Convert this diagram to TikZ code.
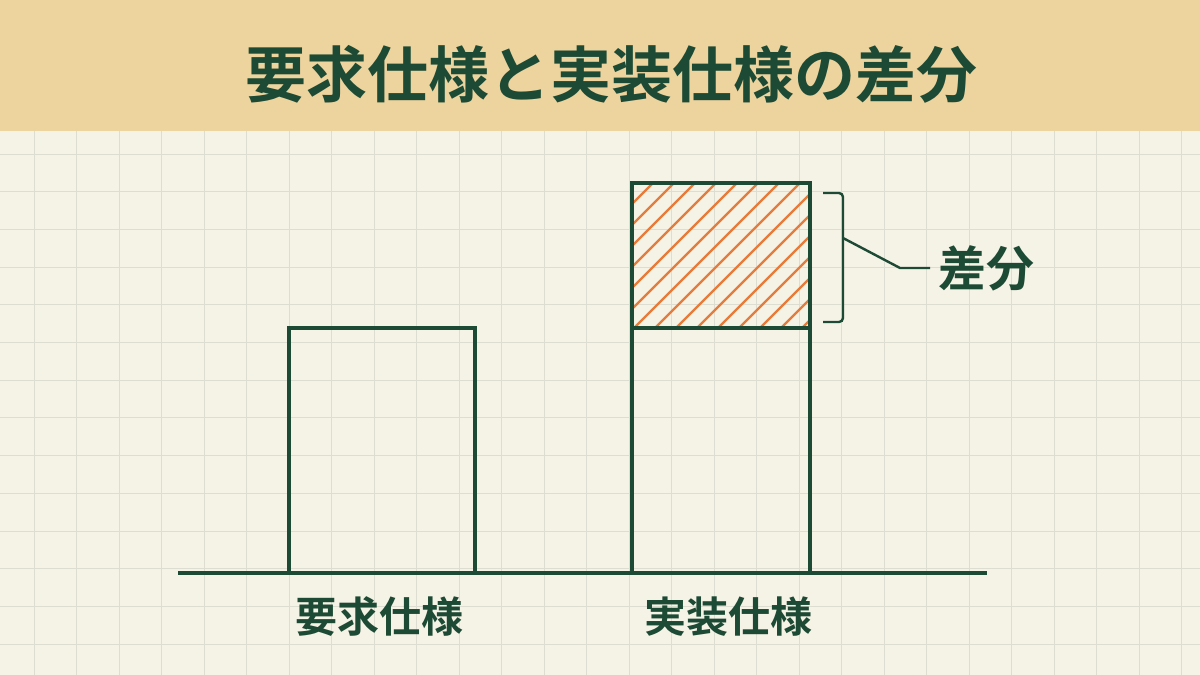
\documentclass[tikz,border=0pt]{standalone}
\usepackage{fontspec}
\newfontfamily\cjk{Noto Sans CJK JP Bold}
\definecolor{bgpaper}{HTML}{F5F2E6}
\definecolor{band}{HTML}{EDD39E}
\definecolor{gridc}{HTML}{DDDDD2}
\definecolor{ink}{HTML}{1D4A34}
\definecolor{hatch}{HTML}{E87B3A}
\tikzset{
  bar/.style={draw=ink, line width=3.3pt},
  lbl/.style={text=ink, font=\cjk\fontsize{42}{42}\selectfont, inner sep=0pt},
  gl/.style={draw=gridc, line width=0.9pt}
}
\begin{document}
\begin{tikzpicture}[x=1pt,y=-1pt]
\useasboundingbox (0,0) rectangle (1200,675);
\fill[bgpaper] (0,0) rectangle (1200,675);
% grid
\foreach \i in {0,...,27} {\draw[gl] ({34+42.5*\i},131) -- ({34+42.5*\i},675);}
\foreach \j in {0,...,13} {\draw[gl] (0,{154+37.7*\j}) -- (1200,{154+37.7*\j});}
% header band
\fill[band] (0,0) rectangle (1200,131);
\node[text=ink, font=\cjk\fontsize{61}{61}\selectfont, inner sep=0pt] (title) at (611,74) {要求仕様と実装仕様の差分};
% hatch
\begin{scope}
\clip (632,183) rectangle (810,328);
\foreach \k in {0,...,16} {\draw[hatch, line width=2.3pt] ({487+21*\k},328) -- ({632+21*\k},183);}
\end{scope}
% boxes
\draw[bar] (289,573) rectangle (475,328);
\draw[bar] (632,573) rectangle (810,183);
\draw[bar] (632,328) -- (810,328);
% baseline
\coordinate (bl) at (178,573);
\coordinate (br) at (987,573);
\draw[bar] (bl) -- (br);
% bracket
\draw[draw=ink, line width=2.4pt, rounded corners=4pt] (823,193) -- (843,193) -- (843,322) -- (823,322);
\coordinate (bm) at (843,238);
\coordinate (bk) at (900,268);
\node[lbl, font=\cjk\fontsize{48}{48}\selectfont, anchor=west] (diff) at (938,268) {差分};
\draw[draw=ink, line width=2.4pt] (bm) -- (bk) -- (diff.west -| 930,0);
% labels
\node[lbl] (req) at (379,617) {要求仕様};
\node[lbl] (impl) at (728,617) {実装仕様};
\end{tikzpicture}
\end{document}
